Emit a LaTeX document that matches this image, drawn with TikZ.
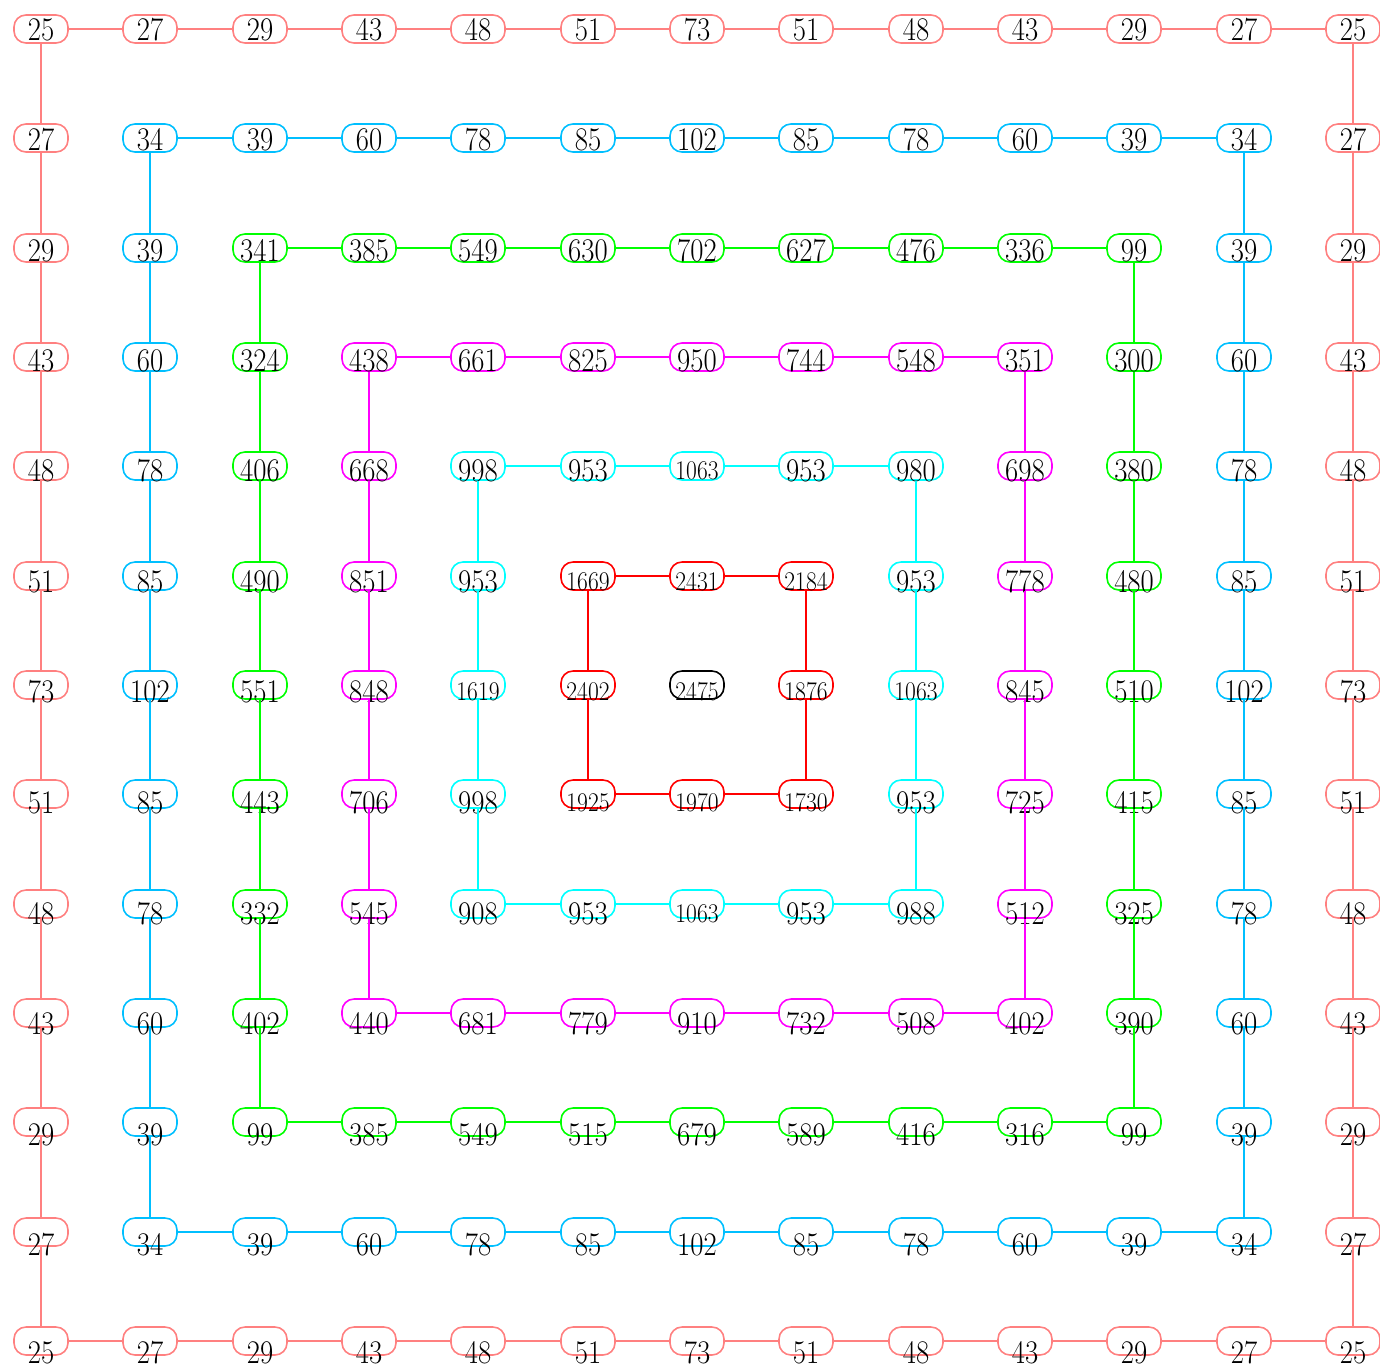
\documentclass[tikz,border=0pt]{standalone}
\usepackage{graphicx}
\definecolor{lv0}{RGB}{255,128,128}
\definecolor{lv1}{RGB}{0,191,255}
\definecolor{lv2}{RGB}{0,255,0}
\definecolor{lv3}{RGB}{255,0,255}
\definecolor{lv4}{RGB}{0,255,255}
\definecolor{lv5}{RGB}{255,0,0}
\definecolor{lv6}{RGB}{0,0,0}
\tikzset{
  cell/.style={draw, line width=1.6pt, rounded corners=12pt, minimum width=54pt, minimum height=28pt, inner sep=0pt},
  lbl/.style={inner sep=0pt, text=black},
  edge/.style={line width=2pt}
}
\newcommand{\biglbl}[1]{\scalebox{0.87}[1]{\fontsize{33}{33}\selectfont #1}}
\newcommand{\smalllbl}[1]{\scalebox{0.87}[1]{\fontsize{27}{27}\selectfont #1}}
\begin{document}
\begin{tikzpicture}[x=1pt,y=-1pt]
\useasboundingbox (0,0) rectangle (1380,1369);
\foreach \row [count=\r from 0] in {
 {25,27,29,43,48,51,73,51,48,43,29,27,25},
 {27,34,39,60,78,85,102,85,78,60,39,34,27},
 {29,39,341,385,549,630,702,627,476,336,99,39,29},
 {43,60,324,438,661,825,950,744,548,351,300,60,43},
 {48,78,406,668,998,953,1063,953,980,698,380,78,48},
 {51,85,490,851,953,1669,2431,2184,953,778,480,85,51},
 {73,102,551,848,1619,2402,2475,1876,1063,845,510,102,73},
 {51,85,443,706,998,1925,1970,1730,953,725,415,85,51},
 {48,78,332,545,908,953,1063,953,988,512,325,78,48},
 {43,60,402,440,681,779,910,732,508,402,390,60,43},
 {29,39,99,385,549,515,679,589,416,316,99,39,29},
 {27,34,39,60,78,85,102,85,78,60,39,34,27},
 {25,27,29,43,48,51,73,51,48,43,29,27,25}} {
  \foreach \v [count=\c from 0] in \row {
    \pgfmathtruncatemacro\lev{min(\r,\c,12-\r,12-\c)}
    \pgfmathtruncatemacro\xx{round(41+109.33*\c)}
    \pgfmathtruncatemacro\yy{round(29+109.33*\r)}
    \pgfmathsetmacro\off{{1,2,3,4,5,6,7,8.5,9.5,11,12.5,13,12}[\r]}
    \node[cell, draw=lv\lev] (n-\r-\c) at (\xx,\yy) {};
    \ifnum\v>999
      \node[lbl] (t-\r-\c) at ([yshift=-\off pt]n-\r-\c.center) {\smalllbl{\v}};
    \else
      \node[lbl] (t-\r-\c) at ([yshift=-\off pt]n-\r-\c.center) {\biglbl{\v}};
    \fi
  }
}
\foreach \k in {0,...,5} {
  \pgfmathtruncatemacro\m{12-\k}
  \pgfmathtruncatemacro\mm{11-\k}
  \foreach \c in {\k,...,\mm} {
    \pgfmathtruncatemacro\d{\c+1}
    \draw[edge, draw=lv\k] (n-\k-\c) -- (n-\k-\d);
    \draw[edge, draw=lv\k] (n-\m-\c) -- (n-\m-\d);
    \draw[edge, draw=lv\k] (n-\c-\k) -- (n-\d-\k);
    \draw[edge, draw=lv\k] (n-\c-\m) -- (n-\d-\m);
  }
}
\end{tikzpicture}
\end{document}
